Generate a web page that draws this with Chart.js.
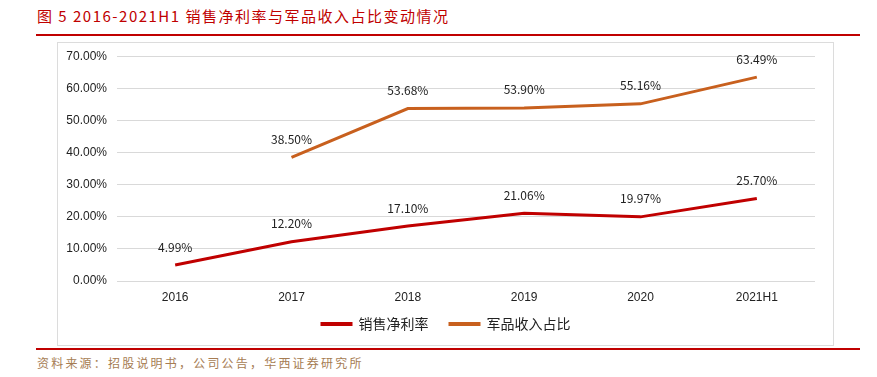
<!DOCTYPE html>
<html>
<head>
<meta charset="utf-8">
<script src="https://cdn.jsdelivr.net/npm/chart.js@4"></script>
<style>
    body { margin: 0; width: 877px; height: 377px; background: #fff; position: relative; overflow: hidden;
           font-family: "Noto Sans CJK SC", "DejaVu Sans", sans-serif; }
    #title { position: absolute; left: 37px; top: 5px; font-size: 15px; color: #c00000; letter-spacing: 1.5px; white-space: nowrap; }
    #topLine { position: absolute; left: 36px; top: 34px; width: 824px; height: 2px; background: #c00000; }
    #box { position: absolute; left: 57px; top: 42px; width: 775px; height: 302px; border: 1px solid #dcdcdc; overflow: hidden; }
    #lineChart { position: absolute; left: 0; top: -4px; }
    #bottomLine { position: absolute; left: 36px; top: 348px; width: 824px; height: 2px; background: #c00000; }
    #source { position: absolute; left: 37px; top: 354px; font-size: 12px; color: #a67c52; letter-spacing: 2.2px; white-space: nowrap; }
</style>
</head>
<body>
<div id="title">图 5 2016-2021H1 销售净利率与军品收入占比变动情况</div>
<div id="topLine"></div>
<div id="box"><canvas id="lineChart" width="775" height="306"></canvas></div>
<div id="bottomLine"></div>
<div id="source">资料来源：招股说明书，公司公告，华西证券研究所</div>
<script>
const years = ["2016", "2017", "2018", "2019", "2020", "2021H1"];
const netMargin = [4.99, 12.20, 17.10, 21.06, 19.97, 25.70];
const militaryShare = [null, 38.50, 53.68, 53.90, 55.16, 63.49];
const yTicks = [0, 10, 20, 30, 40, 50, 60, 70];

const valueLabels = {
    id: "valueLabels",
    afterDatasetsDraw(chart) {
        const c = chart.ctx;
        c.save();
        c.font = "12px 'Noto Sans CJK SC', sans-serif";
        c.fillStyle = "#222";
        c.textAlign = "center";
        c.textBaseline = "middle";
        chart.data.datasets.forEach((ds, i) => {
            chart.getDatasetMeta(i).data.forEach((pt, j) => {
                const v = ds.data[j];
                if (v === null) return;
                c.fillText(v.toFixed(2) + "%", pt.x, pt.y - 18);
            });
        });
        c.restore();
    }
};

// legend drawn by hand so the gap between items can be set apart from its height
const lineLegend = {
    id: "lineLegend",
    afterDraw(chart) {
        const c = chart.ctx;
        const y = 285;
        c.save();
        c.font = "14px 'Noto Sans CJK SC', sans-serif";
        c.textBaseline = "middle";
        const items = chart.data.datasets.map(ds => ({ text: ds.label, color: ds.borderColor, w: c.measureText(ds.label).width }));
        const total = items.reduce((s, it) => s + 32 + 6 + it.w, 0) + 20 * (items.length - 1);
        let x = chart.width / 2 - total / 2;
        items.forEach(it => {
            c.fillStyle = it.color;
            c.fillRect(x, y - 2, 32, 4);
            x += 38;
            c.fillStyle = "#222";
            c.fillText(it.text, x, y);
            x += it.w + 20;
        });
        c.restore();
    }
};

const ctx = document.getElementById("lineChart");
new Chart(ctx, {
    type: "line",
    data: {
        labels: years,
        datasets: [
            {
                label: "销售净利率",
                data: netMargin,
                borderColor: "#c00000",
                backgroundColor: "#c00000",
                borderWidth: 3,
                pointRadius: 0,
                tension: 0
            },
            {
                label: "军品收入占比",
                data: militaryShare,
                borderColor: "#c8601e",
                backgroundColor: "#c8601e",
                borderWidth: 3,
                pointRadius: 0,
                tension: 0
            }
        ]
    },
    options: {
        responsive: false,
        animation: false,
        layout: { padding: { top: 0, right: 18, bottom: 34, left: 0 } },
        plugins: {
            legend: { display: false },
            tooltip: { enabled: false }
        },
        scales: {
            x: {
                offset: true,
                grid: { display: false },
                border: { display: false },
                ticks: { color: "#222", font: { size: 12 }, padding: 1 },
                afterFit: s => { s.height = 30; }
            },
            y: {
                min: 0,
                max: 70,
                afterBuildTicks: s => { s.ticks = yTicks.map(v => ({ value: v })); },
                grid: { color: "#d9d9d9", drawTicks: false },
                border: { display: false },
                ticks: { color: "#222", font: { size: 12 }, padding: 10, callback: v => v.toFixed(2) + "%" },
                afterFit: s => { s.width = 59; }
            }
        }
    },
    plugins: [valueLabels, lineLegend]
});
</script>
</body>
</html>
